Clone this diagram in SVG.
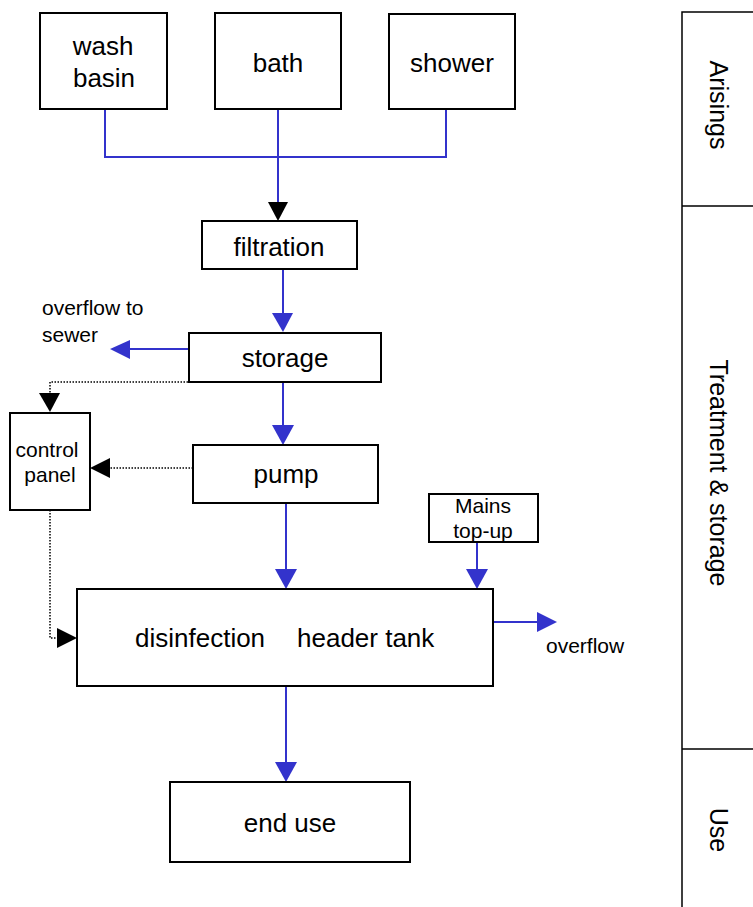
<svg xmlns="http://www.w3.org/2000/svg" width="753" height="907" viewBox="0 0 753 907">
<defs>
<style>
.box{fill:#fff;stroke:#000;stroke-width:2}
.big{font-family:"Liberation Sans",Arial,sans-serif;font-size:26px;fill:#000}
.sm{font-family:"Liberation Sans",Arial,sans-serif;font-size:21px;fill:#000}
.side{font-family:"Liberation Sans",Arial,sans-serif;font-size:25px;fill:#000}
.flow{fill:none;stroke:#3333CC;stroke-width:2}
.ctl{fill:none;stroke:#000;stroke-width:1.5;stroke-dasharray:1.5 1.5}
.bh{fill:#3333CC}
.kh{fill:#000}
.pl{fill:none;stroke:#000;stroke-width:1.5}
</style>
</defs>
<rect width="753" height="907" fill="#fff"/>

<g id="connectors">
  <path class="flow" d="M105 109 V157 H446 V109"/>
  <path class="flow" d="M278 109 V206"/>
  <polygon class="kh" points="268,202 288,202 278,221"/>
  <path class="flow" d="M283 269 V314"/>
  <polygon class="bh" points="272,313 293,313 283,332"/>
  <path class="flow" d="M189 349 H128"/>
  <polygon class="bh" points="130,340 130,359 110,349"/>
  <path class="ctl" d="M188 382 H50 V395"/>
  <polygon class="kh" points="39,393 60,393 50,412"/>
  <path class="flow" d="M283 382 V427"/>
  <polygon class="bh" points="272,425 294,425 283,445"/>
  <path class="ctl" d="M193 468 H108"/>
  <polygon class="kh" points="110,458 110,478 90,468"/>
  <path class="flow" d="M286 503 V571"/>
  <polygon class="bh" points="275,569 297,569 286,589"/>
  <path class="ctl" d="M50 510 V638 H59"/>
  <polygon class="kh" points="57,628 57,648 77,638"/>
  <path class="flow" d="M477 542 V571"/>
  <polygon class="bh" points="466,569 488,569 477,589"/>
  <path class="flow" d="M489 622 H539"/>
  <polygon class="bh" points="537,612 537,632 557,622"/>
  <path class="flow" d="M286 686 V764"/>
  <polygon class="bh" points="275,762 297,762 286,782"/>
</g>

<g id="wash-basin">
  <rect class="box" x="40" y="13" width="127" height="96"/>
  <text class="big" x="103" y="55" text-anchor="middle">wash</text>
  <text class="big" x="104" y="87" text-anchor="middle">basin</text>
</g>
<g id="bath">
  <rect class="box" x="215" y="13" width="126" height="96"/>
  <text class="big" x="278" y="72" text-anchor="middle">bath</text>
</g>
<g id="shower">
  <rect class="box" x="389" y="14" width="126" height="95"/>
  <text class="big" x="452" y="72" text-anchor="middle">shower</text>
</g>
<g id="filtration">
  <rect class="box" x="202" y="221" width="155" height="48"/>
  <text class="big" x="279" y="256" text-anchor="middle">filtration</text>
</g>
<g id="overflow-to-sewer">
  <text class="sm" x="42" y="315">overflow to</text>
  <text class="sm" x="42" y="342">sewer</text>
</g>
<g id="storage">
  <rect class="box" x="189" y="333" width="192" height="49"/>
  <text class="big" x="285" y="367" text-anchor="middle">storage</text>
</g>
<g id="control-panel">
  <rect class="box" x="10" y="413" width="80" height="97"/>
  <text class="sm" x="47" y="457" text-anchor="middle">control</text>
  <text class="sm" x="50" y="482" text-anchor="middle">panel</text>
</g>
<g id="pump">
  <rect class="box" x="193" y="445" width="185" height="58"/>
  <text class="big" x="286" y="483" text-anchor="middle">pump</text>
</g>
<g id="mains-top-up">
  <rect class="box" x="429" y="494" width="109" height="48"/>
  <text class="sm" x="483" y="513" text-anchor="middle">Mains</text>
  <text class="sm" x="483" y="538" text-anchor="middle">top-up</text>
</g>
<g id="disinfection-header-tank">
  <rect class="box" x="77" y="589" width="416" height="97"/>
  <text class="big" y="647"><tspan x="135">disinfection</tspan><tspan x="297">header tank</tspan></text>
</g>
<g id="overflow">
  <text class="sm" x="546" y="653">overflow</text>
</g>
<g id="end-use">
  <rect class="box" x="170" y="782" width="240" height="80"/>
  <text class="big" x="290" y="832" text-anchor="middle">end use</text>
</g>

<g id="stages">
  <path class="pl" d="M682 907 V12 H753 M682 206 H753 M682 749 H753"/>
  <text class="side" transform="translate(710,105) rotate(90)" text-anchor="middle">Arisings</text>
  <text class="side" transform="translate(710,473) rotate(90)" text-anchor="middle">Treatment &amp; storage</text>
  <text class="side" transform="translate(710,830) rotate(90)" text-anchor="middle">Use</text>
</g>
</svg>
